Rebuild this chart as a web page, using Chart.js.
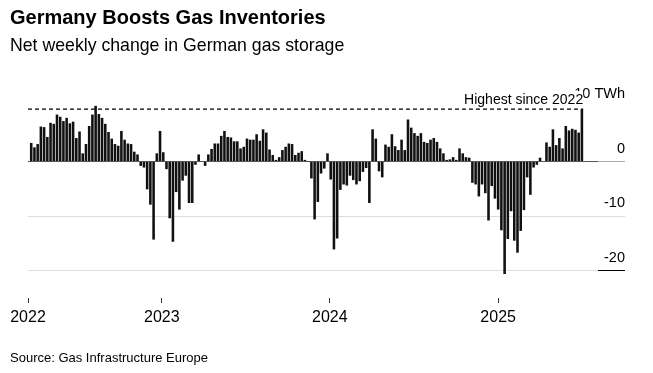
<!DOCTYPE html>
<html>
<head>
<meta charset="utf-8">
<script src="https://cdn.jsdelivr.net/npm/chart.js@4.4.0/dist/chart.umd.min.js"></script>
<style>
  html, body { margin: 0; padding: 0; background: #fff; }
  #wrap { position: relative; width: 653px; height: 373px; font-family: 'Liberation Sans', Arial, sans-serif; color: #000; }
  canvas { position: absolute; left: 0; top: 0; }
  .title { position: absolute; left: 10px; top: 6px; font-size: 20px; font-weight: bold; }
  .subtitle { position: absolute; left: 10px; top: 35px; font-size: 17.7px; }
  .source { position: absolute; left: 10px; top: 350px; font-size: 13px; }
</style>
</head>
<body>
<div id="wrap">
  <canvas id="chart" width="653" height="373"></canvas>
  <div class="title">Germany Boosts Gas Inventories</div>
  <div class="subtitle">Net weekly change in German gas storage</div>
  <div class="source">Source: Gas Infrastructure Europe</div>
</div>
<script>
// first week shown in the data (approx. from the picture)
const firstWeek = '2022-03-23';

// net weekly change, TWh
const weeklyChange = [
  3.4, 2.6, 3.2, 6.4, 6.3, 4.5, 7.1, 6.9, 8.6, 8.2,
  7.4, 8.0, 7.0, 7.3, 4.3, 5.5, 1.5, 3.2, 6.5, 8.6,
  10.2, 8.7, 8.0, 6.9, 5.4, 4.2, 3.2, 2.9, 5.6, 4.0,
  3.3, 3.2, 1.8, 1.3, -0.8, -1.1, -5.1, -7.9, -14.3, 1.5,
  5.6, 1.7, -1.4, -10.4, -14.7, -5.6, -8.8, -3.5, -2.6, -7.6,
  -7.6, -0.6, 1.3, 0.1, -0.8, 1.3, 2.3, 3.3, 3.3, 4.7,
  5.6, 4.5, 4.4, 3.7, 3.7, 2.4, 2.7, 4.2, 4.0, 4.0,
  5.0, 3.8, 5.9, 5.3, 2.2, 1.2, 0.3, 0.8, 2.1, 2.7,
  3.3, 3.2, 1.2, 1.6, 1.9, 0.3, 0.05, -3.1, -10.6, -7.4,
  -2.2, -1.3, 1.5, -3.3, -16.1, -14.1, -5.2, -4.2, -4.4, -2.6,
  -3.4, -4.2, -3.6, -1.9, -1.2, -7.6, 5.9, 4.2, -1.8, -2.9,
  3.1, 2.7, 5.0, 2.8, 2.1, 4.0, 2.1, 7.7, 6.2, 5.2,
  4.7, 5.2, 3.6, 3.4, 4.0, 4.3, 3.6, 2.4, 1.5, 0.3,
  0.4, 0.8, 0.3, 2.4, 1.5, 0.8, 0.7, -3.9, -4.2, -6.4,
  -4.2, -5.8, -10.8, -4.5, -6.8, -8.8, -12.6, -20.6, -14.2, -9.1,
  -14.5, -16.7, -12.7, -8.9, -2.9, -6.1, -1.1, -0.6, 0.7, 0.1,
  3.5, 2.7, 5.9, 3.0, 4.3, 2.4, 6.5, 5.7, 6.0, 5.8, 5.3, 9.6
];

const yearLabels = ['2022', '2023', '2024', '2025'];
const yTickValues = [10, 0, -10, -20];
const unitLabel = 'TWh';
const peakNote = 'Highest since 2022';

const FONT = "'Liberation Sans', Arial, sans-serif";
const WEEK = 7 * 864e5;
const weekIndex = d => (Date.parse(d) - Date.parse(firstWeek)) / WEEK;

const xMin = -1;
const xMax = 176;
const lastIdx = weeklyChange.length - 1;
const lastValue = weeklyChange[lastIdx];

// tick for each year: start of the year, or the left edge for the first one
const yearTicks = yearLabels.map(y => Math.max(xMin, weekIndex(y + '-01-01')));

const yLabel = v => v === 10 ? v + ' ' + unitLabel : String(v);

// y labels sit above their gridlines and may run into the plot, so Chart.js
// would clip them to the axis box; draw them here instead, then the note
const labelsPlugin = {
  id: 'labels',
  afterDraw(chart) {
    const { ctx, scales } = chart;
    const y = scales.y;
    ctx.save();
    ctx.font = '14.5px ' + FONT;
    ctx.fillStyle = '#000';
    ctx.textAlign = 'right';
    ctx.textBaseline = 'middle';
    y.ticks.forEach(t => {
      ctx.fillText(yLabel(t.value), y.right, y.getPixelForValue(t.value) - 13);
    });

    const px = scales.x.getPixelForValue(lastIdx + 0.4);
    const py = y.getPixelForValue(lastValue);
    ctx.font = '14px ' + FONT;
    const w = ctx.measureText(peakNote).width;
    ctx.fillStyle = '#fff';
    ctx.fillRect(px - w - 2, py - 18, w + 2, 13);
    ctx.fillStyle = '#000';
    ctx.textBaseline = 'alphabetic';
    ctx.fillText(peakNote, px, py - 5);
    ctx.restore();
  }
};

new Chart(document.getElementById('chart'), {
  data: {
    datasets: [
      {
        type: 'bar',
        data: weeklyChange.map((v, i) => ({ x: i, y: v })),
        backgroundColor: '#111',
        barPercentage: 0.8,
        categoryPercentage: 1
      },
      {
        type: 'line',
        data: [{ x: xMin, y: lastValue }, { x: lastIdx + 0.4, y: lastValue }],
        borderColor: '#000',
        borderWidth: 1.3,
        borderDash: [4, 3],
        pointRadius: 0
      }
    ]
  },
  options: {
    responsive: false,
    animation: false,
    layout: { padding: { left: 28, right: 28, top: 96, bottom: 45 } },
    plugins: { legend: { display: false }, tooltip: { enabled: false } },
    scales: {
      x: {
        type: 'linear',
        min: xMin,
        max: xMax,
        offset: false,
        afterBuildTicks: s => { s.ticks = yearTicks.map(v => ({ value: v })); },
        afterFit: s => { s.height = 30; },
        border: { display: false },
        grid: { offset: false, drawOnChartArea: false, tickLength: 5, color: '#333', tickColor: '#333' },
        ticks: {
          autoSkip: false,
          maxRotation: 0,
          padding: 5,
          color: '#000',
          font: { family: FONT, size: 16 },
          callback: (v, i) => yearLabels[i]
        }
      },
      y: {
        position: 'right',
        min: -25,
        max: 12,
        afterBuildTicks: s => { s.ticks = yTickValues.map(v => ({ value: v })); },
        afterFit: s => { s.width = 27; },
        border: { display: false },
        grid: {
          tickLength: 27,
          color: c => c.tick.value === 10 ? 'rgba(0,0,0,0)' : (c.tick.value === 0 ? '#555' : '#ddd'),
          tickColor: c => c.tick.value === 10 ? 'rgba(0,0,0,0)' : (c.tick.value === -20 ? '#000' : (c.tick.value === 0 ? '#aaa' : '#ddd'))
        },
        ticks: { display: false }
      }
    }
  },
  plugins: [labelsPlugin]
});
</script>
</body>
</html>
